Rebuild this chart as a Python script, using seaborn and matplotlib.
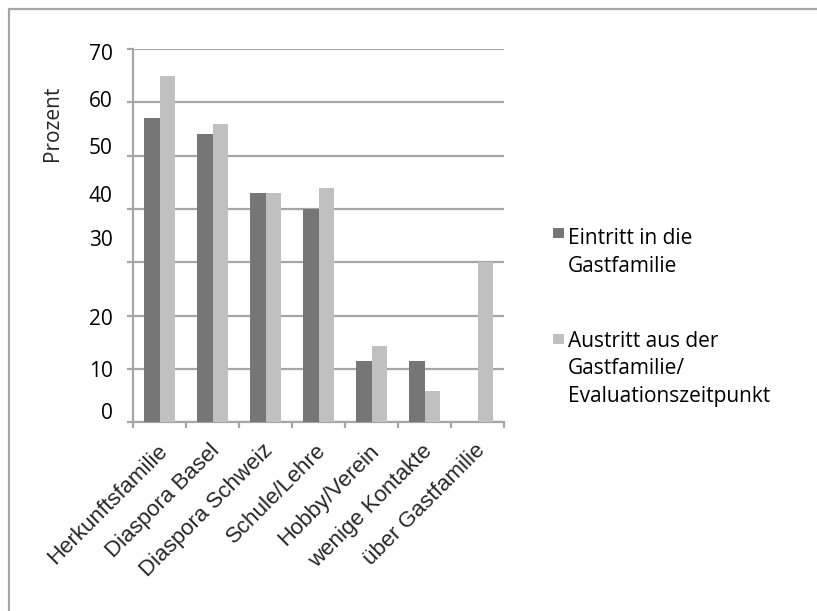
import numpy as np
import pandas as pd
import matplotlib
matplotlib.use("Agg")
import matplotlib.pyplot as plt
from matplotlib.patches import Rectangle
from matplotlib.lines import Line2D
from matplotlib.transforms import ScaledTranslation
import seaborn as sns

# Kontakte / Bezugspersonen, Anteil in Prozent
kategorien = ["Herkunftsfamilie", "Diaspora Basel", "Diaspora Schweiz",
              "Schule/Lehre", "Hobby/Verein", "wenige Kontakte", "über Gastfamilie"]
eintritt = [57.0, 54.0, 43.0, 40.0, 11.5, 11.5, 0.0]
austritt = [65.0, 55.9, 43.0, 43.9, 14.4, 5.9, 30.0]
serien = ["Eintritt in die\nGastfamilie",
          "Austritt aus der\nGastfamilie/\nEvaluationszeitpunkt"]
y_ticks = [0, 10, 20, 30, 40, 50, 60, 70]

DUNKEL = "#767676"
HELL = "#C0C0C0"
GRAU = "#A6A6A6"

df = pd.DataFrame({
    "Kategorie": kategorien * 2,
    "Prozent": eintritt + austritt,
    "Zeitpunkt": [serien[0]] * len(kategorien) + [serien[1]] * len(kategorien),
})

sns.set_style("white")
plt.rcParams["font.family"] = ["Open Sans", "DejaVu Sans"]

W, H = 817, 611
fig = plt.figure(figsize=(W / 100, H / 100), dpi=100)
fig.patch.set_facecolor("white")

# axes box in pixel terms
x0, x1 = 133, 504
y_top, y_bot = 49, 422.3
ax = fig.add_axes([x0 / W, 1 - y_bot / H, (x1 - x0) / W, (y_bot - y_top) / H])

sns.barplot(data=df, x="Kategorie", y="Prozent", hue="Zeitpunkt",
            palette=[DUNKEL, HELL], saturation=1, width=0.57, gap=0,
            legend=False, ax=ax, zorder=3, linewidth=0, edgecolor="none")

ax.set_xlim(-0.5, len(kategorien) - 0.5)
ax.set_ylim(0, 70)
ax.set_yticks(y_ticks)
ax.set_yticklabels([str(v) for v in y_ticks])
ax.yaxis.grid(True, color=GRAU, linewidth=1.6, zorder=0)
ax.xaxis.grid(False)
ax.set_axisbelow(True)

for s in ["top", "right"]:
    ax.spines[s].set_visible(False)
for s in ["left", "bottom"]:
    ax.spines[s].set_color(GRAU)
    ax.spines[s].set_linewidth(1.6)

ax.tick_params(axis="y", which="major", length=4.3, width=1.6, color=GRAU,
               pad=10.5, labelsize=15, labelcolor="black", left=True)
for t in ax.get_yticklabels():
    t.set_fontfamily(["Open Sans", "DejaVu Sans"])

# label offsets (pixels upwards) as laid out in the chart
y_offsets = {0: 11, 10: 0, 20: -1, 30: 24, 40: 15, 50: 10, 60: 3.5, 70: -3.5}
for val, lab in zip(y_ticks, ax.get_yticklabels()):
    dy = y_offsets.get(val, 0) / 100
    lab.set_transform(lab.get_transform() + ScaledTranslation(0, dy, fig.dpi_scale_trans))

# category labels, boundary tick marks
ax.set_xticks(range(len(kategorien)))
ax.set_xticklabels(kategorien, rotation=45, ha="right", rotation_mode="anchor",
                   va="top", fontsize=16,
                   fontfamily=["Liberation Sans", "DejaVu Sans"])
ax.tick_params(axis="x", which="major", length=0, pad=13, bottom=True)
for lab in ax.get_xticklabels():
    lab.set_transform(lab.get_transform() + ScaledTranslation(-0.03, 0, fig.dpi_scale_trans))
ax.set_xticks(np.arange(-0.5, len(kategorien), 1), minor=True)
ax.tick_params(axis="x", which="minor", length=4.6, width=1.6, color=GRAU, bottom=True)
ax.set_xlabel("")

ax.set_ylabel("Prozent", fontsize=15, fontfamily=["Open Sans", "DejaVu Sans"])
ax.yaxis.label.set_va("center")
ax.yaxis.set_label_coords((53 - x0) / (x1 - x0), (y_bot - 123) / (y_bot - y_top))

# legend (text anchored at the baseline of its last line)
leg_font = dict(fontsize=15, fontfamily=["Open Sans", "DejaVu Sans"], color="black",
                va="baseline", ha="left", linespacing=1.42)
fig.add_artist(Rectangle((553 / W, 1 - 238 / H), 11 / W, 10 / H,
                         transform=fig.transFigure, color=DUNKEL, lw=0))
fig.text(568 / W, 1 - 272 / H, serien[0], **leg_font)
fig.add_artist(Rectangle((553 / W, 1 - 344 / H), 11 / W, 10 / H,
                         transform=fig.transFigure, color=HELL, lw=0))
fig.text(568 / W, 1 - 402 / H, serien[1], **leg_font)

# frame lines on the top and left edge
fig.add_artist(Line2D([9 / W, 9 / W], [0, 1 - 9 / H], transform=fig.transFigure,
                      color=GRAU, lw=1.6))
fig.add_artist(Line2D([9 / W, 1.01], [1 - 9 / H, 1 - 9 / H], transform=fig.transFigure,
                      color=GRAU, lw=1.6))

fig.savefig("out.png", dpi=100, facecolor="white")
